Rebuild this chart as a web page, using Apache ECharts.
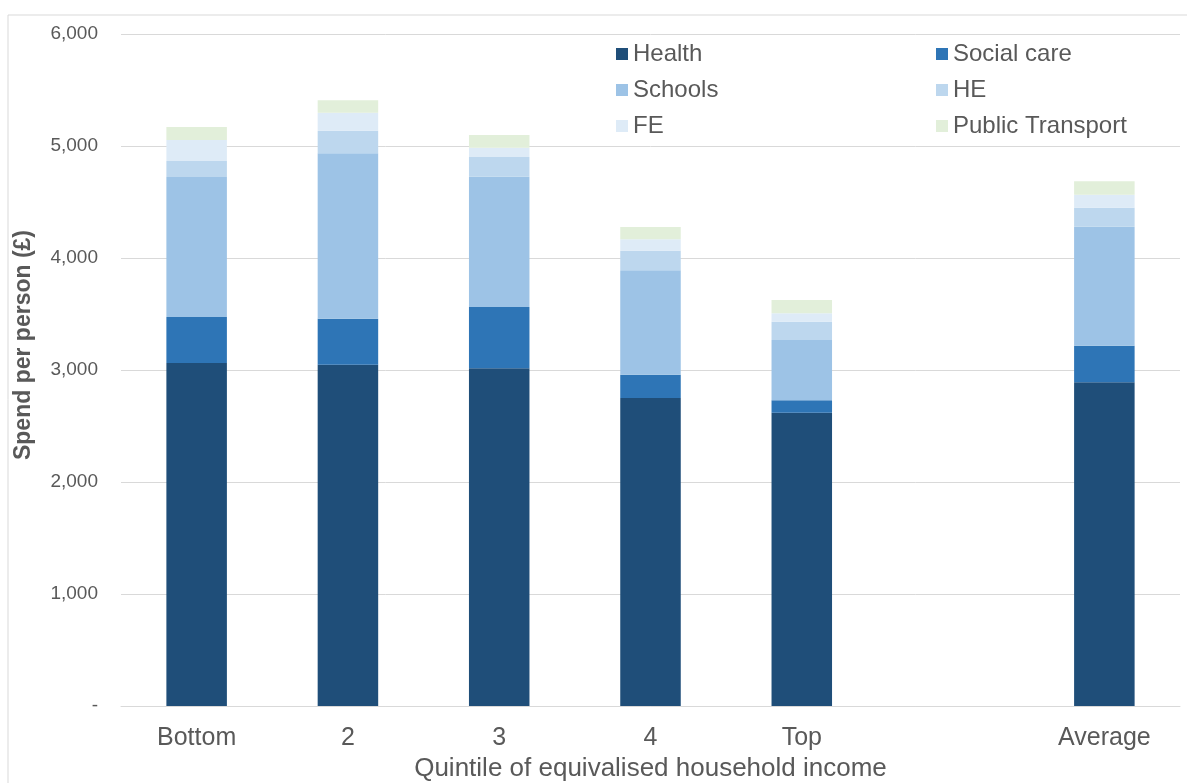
<!DOCTYPE html>
<html>
<head>
<meta charset="utf-8">
<script src="https://cdn.jsdelivr.net/npm/echarts@6/dist/echarts.min.js"></script>
<style>
	html, body { margin: 0; padding: 0; background: #fff; }
	#chart { width: 1187px; height: 783px; }
</style>
</head>
<body>
<div id="chart"></div>
<script>
// quintile groups, blank slot keeps the gap before Average
var categories = ['Bottom', '2', '3', '4', 'Top', '', 'Average'];

var health      = [3062, 3047, 3015, 2750, 2619, null, 2890];
var socialCare  = [411, 411, 548, 208, 110, null, 327];
var schools     = [1250, 1477, 1163, 932, 539, null, 1063];
var he          = [143, 202, 176, 175, 163, null, 169];
var fe          = [188, 160, 83, 102, 75, null, 116];
var transport   = [116, 111, 113, 110, 119, null, 120];

var seriesNames  = ['Health', 'Social care', 'Schools', 'HE', 'FE', 'Public Transport'];
var seriesColors = ['#1F4E79', '#2E75B6', '#9DC3E6', '#BDD7EE', '#DEEBF7', '#E2EFDA'];
var seriesData   = [health, socialCare, schools, he, fe, transport];

var TXT = '#595959';
var FONT = 'Liberation Sans, Arial, sans-serif';

var chart = echarts.init(document.getElementById('chart'));

function makeLegend(names, left) {
	return {
		orient: 'vertical',
		left: left, top: 37,
		itemGap: 12,
		itemWidth: 12, itemHeight: 12,
		icon: 'rect',
		textStyle: { color: TXT, fontSize: 24, fontFamily: FONT },
		data: names
	};
}

chart.setOption({
	animation: false,
	textStyle: { fontFamily: FONT },
	graphic: [{
		type: 'rect',
		shape: { x: 8, y: 15, width: 1300, height: 900 },
		style: { fill: 'none', stroke: '#d9d9d9', lineWidth: 1 },
		silent: true
	}],
	legend: [
		makeLegend(['Health', 'Schools', 'FE'], 611),
		makeLegend(['Social care', 'HE', 'Public Transport'], 931)
	],
	grid: { left: 121, right: 7, top: 34, bottom: 77, outerBoundsMode: 'none' },
	xAxis: {
		type: 'category',
		data: categories,
		name: 'Quintile of equivalised household income',
		nameLocation: 'middle',
		nameGap: 47,
		nameTextStyle: { color: TXT, fontSize: 26, fontFamily: FONT },
		axisLine: { lineStyle: { color: '#d9d9d9', width: 1 } },
		axisTick: { show: false },
		axisLabel: { color: TXT, fontSize: 25, fontFamily: FONT, margin: 20, interval: 0 }
	},
	yAxis: {
		type: 'value',
		min: 0, max: 6000, interval: 1000,
		name: 'Spend per person (£)',
		nameLocation: 'middle',
		nameGap: 86,
		nameTextStyle: { color: TXT, fontSize: 23, fontWeight: 'bold', fontFamily: FONT, padding: [0, 0, 0, 50] },
		axisLine: { show: false },
		axisTick: { show: false },
		splitLine: { lineStyle: { color: '#d9d9d9', width: 1 } },
		axisLabel: {
			color: TXT, fontSize: 19, fontFamily: FONT, margin: 23,
			formatter: function (v) { return v === 0 ? '-' : v.toLocaleString('en-GB'); }
		}
	},
	series: seriesNames.map(function (name, i) {
		return {
			name: name,
			type: 'bar',
			stack: 'spend',
			barWidth: '40%',
			itemStyle: { color: seriesColors[i] },
			data: seriesData[i]
		};
	})
});
</script>
</body>
</html>
